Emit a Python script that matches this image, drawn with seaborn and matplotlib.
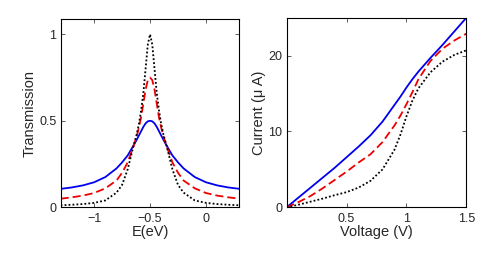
import numpy as np
import pandas as pd
import matplotlib
matplotlib.use("Agg")
import matplotlib.pyplot as plt
import seaborn as sns

# ---- Data: transmission, offsets d = E - (-0.5) ----
d_off = [0.8, 0.7, 0.6, 0.5, 0.4, 0.3, 0.25, 0.2, 0.15, 0.12, 0.1, 0.08, 0.06, 0.04, 0.02, 0.0]
T_black = [0.012, 0.015, 0.019, 0.026, 0.04, 0.085, 0.13, 0.22, 0.35, 0.42, 0.48, 0.56, 0.66, 0.80, 0.94, 1.0]
T_red = [0.05, 0.058, 0.068, 0.083, 0.11, 0.155, 0.2, 0.26, 0.35, 0.41, 0.46, 0.52, 0.60, 0.68, 0.735, 0.75]
T_blue = [0.107, 0.115, 0.127, 0.145, 0.175, 0.225, 0.26, 0.3, 0.355, 0.39, 0.415, 0.44, 0.465, 0.485, 0.497, 0.5]
E_center = -0.5

# ---- Data: I-V curves ----
voltage = [0.0, 0.1, 0.2, 0.3, 0.4, 0.5, 0.6, 0.7, 0.8, 0.9, 0.95, 1.0, 1.05, 1.1, 1.2, 1.3, 1.4, 1.5]
I_blue = [0.0, 1.3, 2.6, 3.9, 5.2, 6.6, 8.0, 9.5, 11.3, 13.5, 14.6, 15.8, 16.9, 17.9, 19.7, 21.4, 23.2, 25.0]
I_red = [0.0, 0.7, 1.5, 2.5, 3.6, 4.7, 5.9, 7.0, 8.6, 10.8, 12.1, 13.6, 15.2, 16.9, 19.3, 20.9, 22.0, 22.9]
I_black = [0.0, 0.35, 0.75, 1.15, 1.6, 2.0, 2.6, 3.5, 5.0, 7.6, 9.6, 12.0, 14.1, 15.7, 17.8, 19.2, 20.1, 20.7]

# build symmetric energy grid from offsets
E_vals = [E_center - d for d in d_off] + [E_center + d for d in d_off[::-1][1:]]
def sym(v):
    return list(v) + list(v[::-1][1:])

dfT = pd.concat([
    pd.DataFrame({"E": E_vals, "T": sym(T_blue), "s": "blue"}),
    pd.DataFrame({"E": E_vals, "T": sym(T_red), "s": "red"}),
    pd.DataFrame({"E": E_vals, "T": sym(T_black), "s": "black"}),
])
dfI = pd.concat([
    pd.DataFrame({"V": voltage, "I": I_blue, "s": "blue"}),
    pd.DataFrame({"V": voltage, "I": I_red, "s": "red"}),
    pd.DataFrame({"V": voltage, "I": I_black, "s": "black"}),
])

sns.set_theme(style="white")
plt.rcParams["font.family"] = ["Liberation Sans", "DejaVu Sans"]

fig = plt.figure(figsize=(5.01, 2.56), dpi=100)
ax1 = fig.add_axes([0.121, 0.19, 0.357, 0.737])
ax2 = fig.add_axes([0.572, 0.19, 0.359, 0.741])

styles = {"blue": ("#0000ee", "-"), "red": ("#ee0000", (0, (4.5, 2.2))), "black": ("#000000", (0, (1, 1.2)))}

for s, (c, ls) in styles.items():
    sub = dfT[dfT.s == s]
    sns.lineplot(data=sub, x="E", y="T", ax=ax1, color=c, linestyle=ls, lw=1.3,
                 sort=False, estimator=None, legend=False)
    sub2 = dfI[dfI.s == s]
    sns.lineplot(data=sub2, x="V", y="I", ax=ax2, color=c, linestyle=ls, lw=1.3,
                 sort=False, estimator=None, legend=False)

ax1.set_xlim(-1.3, 0.3)
ax1.set_ylim(0, 1.09)
ax1.set_xticks([-1, -0.5, 0])
ax1.set_xticklabels(["\u22121", "\u22120.5", "0"])
ax1.set_yticks([0, 0.5, 1])
ax1.set_yticklabels(["0", "0.5", "1"])
ax1.set_xlabel("E(eV)", fontsize=10.5, labelpad=0)
ax1.set_ylabel("Transmission", fontsize=10.5, labelpad=2)

ax2.set_xlim(0, 1.5)
ax2.set_ylim(0, 25)
ax2.set_xticks([0.5, 1, 1.5])
ax2.set_xticklabels(["0.5", "1", "1.5"])
ax2.set_yticks([0, 10, 20])
ax2.set_yticklabels(["0", "10", "20"])
ax2.set_xlabel("Voltage (V)", fontsize=10.5, labelpad=0)
ax2.set_ylabel("Current (\u03bc A)", fontsize=10.5, labelpad=2)

for ax in (ax1, ax2):
    ax.tick_params(direction="in", length=3, width=0.6, top=True, right=True,
                   bottom=True, left=True, labelsize=9, color="#444444")
    ax.tick_params(axis="x", pad=4)
    ax.tick_params(axis="y", pad=3)
    for sp in ax.spines.values():
        sp.set_visible(True)
        sp.set_color("black")
        sp.set_linewidth(0.8)

fig.savefig("out.png", dpi=100)
